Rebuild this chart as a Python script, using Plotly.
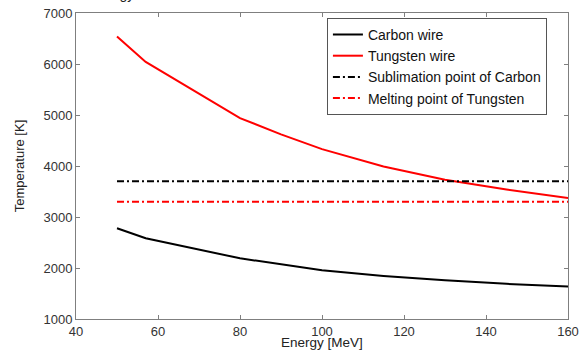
import plotly.graph_objects as go

energy = [50, 57, 80, 90, 100, 115, 130, 145, 160]
carbon_wire = [2780, 2585, 2190, 2070, 1955, 1845, 1760, 1690, 1635]
tungsten_wire = [6540, 6040, 4940, 4620, 4330, 3990, 3730, 3540, 3370]
sublimation_carbon = 3700
melting_tungsten = 3300

FONT = "Liberation Sans, Arial, sans-serif"
DASHDOT = "7px,3px,2px,3px"

fig = go.Figure()
fig.add_trace(go.Scatter(x=energy, y=carbon_wire, mode="lines", name="Carbon wire",
                         line=dict(color="black", width=2)))
fig.add_trace(go.Scatter(x=energy, y=tungsten_wire, mode="lines", name="Tungsten wire",
                         line=dict(color="red", width=2)))
fig.add_trace(go.Scatter(x=[energy[0], energy[-1]], y=[sublimation_carbon] * 2, mode="lines",
                         name="Sublimation point of Carbon",
                         line=dict(color="black", width=2, dash=DASHDOT)))
fig.add_trace(go.Scatter(x=[energy[0], energy[-1]], y=[melting_tungsten] * 2, mode="lines",
                         name="Melting point of Tungsten",
                         line=dict(color="red", width=2, dash=DASHDOT)))

axis_common = dict(showline=True, linecolor="#7f7f7f", linewidth=1, mirror="ticks",
                   ticks="inside", ticklen=4, tickcolor="#7f7f7f", showgrid=False,
                   zeroline=False, automargin=False,
                   tickfont=dict(family=FONT, size=13, color="#333"))
fig.update_xaxes(range=[40, 160], dtick=20, **axis_common)
fig.update_yaxes(range=[1000, 7000], dtick=1000,
                 title=dict(text="Temperature [K]",
                            font=dict(family=FONT, size=13, color="#222")), **axis_common)

# x-axis title placed just under the tick labels, as in the reference
fig.add_annotation(text="Energy [MeV]", xref="paper", yref="paper", x=0.5, y=0.0,
                   yshift=-14, xanchor="center", yanchor="top", showarrow=False,
                   font=dict(family=FONT, size=13.5, color="#222"))

fig.add_annotation(text="Energy", xref="paper", yref="paper", x=0.122, y=1.0,
                   yshift=9, xanchor="right", yanchor="bottom", showarrow=False,
                   font=dict(family=FONT, size=14, color="#222"))

fig.update_layout(
    width=588, height=351,
    margin=dict(l=76, r=20, t=13, b=32, autoexpand=False),
    paper_bgcolor="white", plot_bgcolor="white",
    showlegend=True,
    legend=dict(x=0.51, y=0.984, xanchor="left", yanchor="top",
                bgcolor="white", bordercolor="#555", borderwidth=1,
                font=dict(family=FONT, size=14, color="#111"),
                itemwidth=30, tracegroupgap=0),
)

fig.write_html("out.html", config={"displayModeBar": False},
               post_script="document.body.style.margin='0';")
